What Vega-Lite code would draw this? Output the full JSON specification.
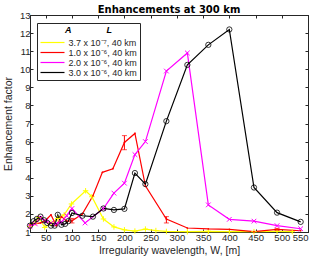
{
  "$schema": "https://vega.github.io/schema/vega-lite/v6.json",
  "width": 278,
  "height": 217,
  "autosize": "none",
  "padding": {"left": 30, "top": 15, "right": 12, "bottom": 31},
  "title": {"text": "Enhancements at 300 km", "font": "DejaVu Sans", "fontSize": 10, "fontWeight": "bold", "color": "#000000", "offset": -5},
  "config": {
    "font": "Liberation Sans",
    "view": {"stroke": "#262626", "strokeWidth": 1},
    "axis": {"domainColor": "#262626", "tickColor": "#262626", "labelColor": "#262626", "titleColor": "#262626", "grid": false, "labelFontSize": 9.5, "titleFontSize": 10.5, "titleFontWeight": "normal", "tickSize": -3, "labelPadding": 3}
  },
  "datasets": {
    "curves": [
      {"s": "3.7 x 10⁻⁷, 40 km", "x": 20, "y": 1.3},
      {"s": "3.7 x 10⁻⁷, 40 km", "x": 30, "y": 1.5},
      {"s": "3.7 x 10⁻⁷, 40 km", "x": 37, "y": 1.8},
      {"s": "3.7 x 10⁻⁷, 40 km", "x": 48, "y": 1.25},
      {"s": "3.7 x 10⁻⁷, 40 km", "x": 60, "y": 1.5},
      {"s": "3.7 x 10⁻⁷, 40 km", "x": 73, "y": 1.75},
      {"s": "3.7 x 10⁻⁷, 40 km", "x": 85, "y": 1.95},
      {"s": "3.7 x 10⁻⁷, 40 km", "x": 99, "y": 2.55},
      {"s": "3.7 x 10⁻⁷, 40 km", "x": 126, "y": 3.28},
      {"s": "3.7 x 10⁻⁷, 40 km", "x": 138, "y": 2.95},
      {"s": "3.7 x 10⁻⁷, 40 km", "x": 160, "y": 1.72},
      {"s": "3.7 x 10⁻⁷, 40 km", "x": 180, "y": 1.28},
      {"s": "3.7 x 10⁻⁷, 40 km", "x": 200, "y": 1.12},
      {"s": "3.7 x 10⁻⁷, 40 km", "x": 220, "y": 1.05},
      {"s": "3.7 x 10⁻⁷, 40 km", "x": 240, "y": 1.16},
      {"s": "3.7 x 10⁻⁷, 40 km", "x": 260, "y": 1.08},
      {"s": "3.7 x 10⁻⁷, 40 km", "x": 280, "y": 1.03},
      {"s": "3.7 x 10⁻⁷, 40 km", "x": 320, "y": 1.02},
      {"s": "3.7 x 10⁻⁷, 40 km", "x": 360, "y": 1.04},
      {"s": "3.7 x 10⁻⁷, 40 km", "x": 400, "y": 1.02},
      {"s": "3.7 x 10⁻⁷, 40 km", "x": 447, "y": 1.02},
      {"s": "3.7 x 10⁻⁷, 40 km", "x": 491, "y": 1.03},
      {"s": "3.7 x 10⁻⁷, 40 km", "x": 520, "y": 1.02},
      {"s": "1.0 x 10⁻⁶, 40 km", "x": 20, "y": 1.4},
      {"s": "1.0 x 10⁻⁶, 40 km", "x": 30, "y": 1.45},
      {"s": "1.0 x 10⁻⁶, 40 km", "x": 40, "y": 1.5},
      {"s": "1.0 x 10⁻⁶, 40 km", "x": 50, "y": 1.65},
      {"s": "1.0 x 10⁻⁶, 40 km", "x": 60, "y": 1.95},
      {"s": "1.0 x 10⁻⁶, 40 km", "x": 70, "y": 1.35},
      {"s": "1.0 x 10⁻⁶, 40 km", "x": 80, "y": 1.85},
      {"s": "1.0 x 10⁻⁶, 40 km", "x": 90, "y": 1.6},
      {"s": "1.0 x 10⁻⁶, 40 km", "x": 100, "y": 1.62},
      {"s": "1.0 x 10⁻⁶, 40 km", "x": 120, "y": 2.0},
      {"s": "1.0 x 10⁻⁶, 40 km", "x": 140, "y": 3.0},
      {"s": "1.0 x 10⁻⁶, 40 km", "x": 158, "y": 4.3},
      {"s": "1.0 x 10⁻⁶, 40 km", "x": 178, "y": 4.5},
      {"s": "1.0 x 10⁻⁶, 40 km", "x": 200, "y": 5.95},
      {"s": "1.0 x 10⁻⁶, 40 km", "x": 220, "y": 6.45},
      {"s": "1.0 x 10⁻⁶, 40 km", "x": 240, "y": 3.55},
      {"s": "1.0 x 10⁻⁶, 40 km", "x": 280, "y": 1.72},
      {"s": "1.0 x 10⁻⁶, 40 km", "x": 320, "y": 1.22},
      {"s": "1.0 x 10⁻⁶, 40 km", "x": 360, "y": 1.17},
      {"s": "1.0 x 10⁻⁶, 40 km", "x": 400, "y": 1.15},
      {"s": "1.0 x 10⁻⁶, 40 km", "x": 447, "y": 1.02},
      {"s": "1.0 x 10⁻⁶, 40 km", "x": 491, "y": 1.15},
      {"s": "1.0 x 10⁻⁶, 40 km", "x": 536, "y": 1.07},
      {"s": "2.0 x 10⁻⁶, 40 km", "x": 20, "y": 1.3},
      {"s": "2.0 x 10⁻⁶, 40 km", "x": 30, "y": 1.45},
      {"s": "2.0 x 10⁻⁶, 40 km", "x": 40, "y": 1.8},
      {"s": "2.0 x 10⁻⁶, 40 km", "x": 50, "y": 1.6},
      {"s": "2.0 x 10⁻⁶, 40 km", "x": 60, "y": 1.5},
      {"s": "2.0 x 10⁻⁶, 40 km", "x": 70, "y": 1.45},
      {"s": "2.0 x 10⁻⁶, 40 km", "x": 80, "y": 1.55},
      {"s": "2.0 x 10⁻⁶, 40 km", "x": 90, "y": 1.9},
      {"s": "2.0 x 10⁻⁶, 40 km", "x": 100, "y": 2.3},
      {"s": "2.0 x 10⁻⁶, 40 km", "x": 125, "y": 1.5},
      {"s": "2.0 x 10⁻⁶, 40 km", "x": 160, "y": 2.3},
      {"s": "2.0 x 10⁻⁶, 40 km", "x": 180, "y": 3.15},
      {"s": "2.0 x 10⁻⁶, 40 km", "x": 200, "y": 3.7},
      {"s": "2.0 x 10⁻⁶, 40 km", "x": 220, "y": 5.28},
      {"s": "2.0 x 10⁻⁶, 40 km", "x": 240, "y": 6.0},
      {"s": "2.0 x 10⁻⁶, 40 km", "x": 280, "y": 9.9},
      {"s": "2.0 x 10⁻⁶, 40 km", "x": 320, "y": 10.9},
      {"s": "2.0 x 10⁻⁶, 40 km", "x": 360, "y": 2.5},
      {"s": "2.0 x 10⁻⁶, 40 km", "x": 400, "y": 1.7},
      {"s": "2.0 x 10⁻⁶, 40 km", "x": 447, "y": 1.6},
      {"s": "2.0 x 10⁻⁶, 40 km", "x": 491, "y": 1.35},
      {"s": "2.0 x 10⁻⁶, 40 km", "x": 536, "y": 1.18},
      {"s": "3.0 x 10⁻⁶, 40 km", "x": 20, "y": 1.35},
      {"s": "3.0 x 10⁻⁶, 40 km", "x": 27, "y": 1.6},
      {"s": "3.0 x 10⁻⁶, 40 km", "x": 33, "y": 1.72},
      {"s": "3.0 x 10⁻⁶, 40 km", "x": 40, "y": 1.85},
      {"s": "3.0 x 10⁻⁶, 40 km", "x": 47, "y": 1.65},
      {"s": "3.0 x 10⁻⁶, 40 km", "x": 53, "y": 1.5},
      {"s": "3.0 x 10⁻⁶, 40 km", "x": 60, "y": 1.35},
      {"s": "3.0 x 10⁻⁶, 40 km", "x": 67, "y": 1.35},
      {"s": "3.0 x 10⁻⁶, 40 km", "x": 73, "y": 1.95},
      {"s": "3.0 x 10⁻⁶, 40 km", "x": 80, "y": 1.4},
      {"s": "3.0 x 10⁻⁶, 40 km", "x": 87, "y": 1.45},
      {"s": "3.0 x 10⁻⁶, 40 km", "x": 93, "y": 1.6},
      {"s": "3.0 x 10⁻⁶, 40 km", "x": 100, "y": 2.05},
      {"s": "3.0 x 10⁻⁶, 40 km", "x": 120, "y": 1.9},
      {"s": "3.0 x 10⁻⁶, 40 km", "x": 140, "y": 1.85},
      {"s": "3.0 x 10⁻⁶, 40 km", "x": 160, "y": 2.3},
      {"s": "3.0 x 10⁻⁶, 40 km", "x": 180, "y": 2.22},
      {"s": "3.0 x 10⁻⁶, 40 km", "x": 200, "y": 2.28},
      {"s": "3.0 x 10⁻⁶, 40 km", "x": 220, "y": 4.26},
      {"s": "3.0 x 10⁻⁶, 40 km", "x": 240, "y": 3.65},
      {"s": "3.0 x 10⁻⁶, 40 km", "x": 280, "y": 7.13},
      {"s": "3.0 x 10⁻⁶, 40 km", "x": 320, "y": 10.24},
      {"s": "3.0 x 10⁻⁶, 40 km", "x": 360, "y": 11.35},
      {"s": "3.0 x 10⁻⁶, 40 km", "x": 400, "y": 12.2},
      {"s": "3.0 x 10⁻⁶, 40 km", "x": 447, "y": 3.46},
      {"s": "3.0 x 10⁻⁶, 40 km", "x": 491, "y": 2.07},
      {"s": "3.0 x 10⁻⁶, 40 km", "x": 536, "y": 1.56}
    ],
    "err": [
      {"x": 100, "lo": 1.5, "hi": 1.75},
      {"x": 200, "lo": 5.55, "hi": 6.33},
      {"x": 280, "lo": 1.5, "hi": 1.85},
      {"x": 491, "lo": 1.08, "hi": 1.2}
    ]
  },
  "encoding": {
    "x": {"field": "x", "type": "quantitative", "scale": {"domain": [20, 550], "nice": false, "zero": false}},
    "y": {"field": "y", "type": "quantitative", "scale": {"domain": [1, 13], "nice": false, "zero": false}}
  },
  "layer": [
    {
      "data": {"name": "curves"},
      "mark": {"type": "line", "strokeWidth": 1.2},
      "encoding": {
        "x": {"field": "x", "type": "quantitative", "axis": {"title": "Irregularity wavelength, W, [m]", "values": [50,100,150,200,250,300,350,400,450,500,550], "titlePadding": 4}},
        "y": {"field": "y", "type": "quantitative", "axis": {"title": "Enhancement factor", "values": [1,2,3,4,5,6,7,8,9,10,11,12,13], "titlePadding": 6}},
        "color": {
          "field": "s", "type": "nominal",
          "scale": {"domain": ["3.7 x 10⁻⁷, 40 km", "1.0 x 10⁻⁶, 40 km", "2.0 x 10⁻⁶, 40 km", "3.0 x 10⁻⁶, 40 km"], "range": ["#FFFF00", "#FF0000", "#FF00FF", "#000000"]},
          "legend": {
            "orient": "none", "legendX": 7, "legendY": 8,
            "title": "A\u00a0\u00a0\u00a0\u00a0\u00a0\u00a0\u00a0\u00a0\u00a0\u00a0\u00a0\u00a0\u00a0\u00a0L",
            "titleFontStyle": "italic", "titleFontWeight": "bold", "titleFontSize": 9, "titleColor": "#000000",
            "titlePadding": 3, "titleAnchor": "middle",
            "labelFontSize": 9, "labelColor": "#262626", "labelOffset": 11,
            "strokeColor": "#262626", "fillColor": "#ffffff", "padding": 2.5,
            "symbolType": "M-3,0L3,0", "symbolSize": 64, "symbolOffset": 8, "symbolStrokeWidth": 1.2, "rowPadding": 0,
            "encoding": {
              "symbols": {"update": {"shape": {"signal": "datum.index === 0 ? 'M-3,0L3,0M-0.375,0L0.375,0M0,-0.375L0,0.375' : datum.index === 1 ? 'M-3,0L3,0M-0.1,0A0.1,0.1 0 1 1 0.1,0A0.1,0.1 0 1 1 -0.1,0' : datum.index === 2 ? 'M-3,0L3,0M-0.33,-0.33L0.33,0.33M-0.33,0.33L0.33,-0.33' : 'M-3,0L-0.35,0M0.35,0L3,0M0.35,0A0.35,0.35 0 1 1 -0.35,0A0.35,0.35 0 1 1 0.35,0'"}}}
            }
          }
        }
      }
    },
    {
      "data": {"name": "err"},
      "mark": {"type": "rule", "color": "#FF0000", "strokeWidth": 1},
      "encoding": {"x": {"field": "x", "type": "quantitative", "axis": null}, "y": {"field": "lo", "type": "quantitative", "axis": null}, "y2": {"field": "hi"}}
    },
    {
      "data": {"name": "err"},
      "mark": {"type": "tick", "orient": "horizontal", "color": "#FF0000", "size": 5, "thickness": 1},
      "encoding": {"x": {"field": "x", "type": "quantitative", "axis": null}, "y": {"field": "lo", "type": "quantitative", "axis": null}}
    },
    {
      "data": {"name": "err"},
      "mark": {"type": "tick", "orient": "horizontal", "color": "#FF0000", "size": 5, "thickness": 1},
      "encoding": {"x": {"field": "x", "type": "quantitative", "axis": null}, "y": {"field": "hi", "type": "quantitative", "axis": null}}
    },
    {
      "data": {"name": "curves"},
      "transform": [{"filter": "datum.s === '3.7 x 10⁻⁷, 40 km'"}],
      "mark": {"type": "point", "shape": "M-1,0L1,0M0,-1L0,1", "color": "#FFFF00", "filled": false, "size": 30, "strokeWidth": 1, "opacity": 1},
      "encoding": {"x": {"field": "x", "type": "quantitative", "axis": null}, "y": {"field": "y", "type": "quantitative", "axis": null}}
    },
    {
      "data": {"name": "curves"},
      "transform": [{"filter": "datum.s === '1.0 x 10⁻⁶, 40 km'"}],
      "mark": {"type": "point", "shape": "circle", "color": "#FF0000", "filled": true, "size": 3, "opacity": 1},
      "encoding": {"x": {"field": "x", "type": "quantitative", "axis": null}, "y": {"field": "y", "type": "quantitative", "axis": null}}
    },
    {
      "data": {"name": "curves"},
      "transform": [{"filter": "datum.s === '2.0 x 10⁻⁶, 40 km'"}],
      "mark": {"type": "point", "shape": "M-1,-1L1,1M-1,1L1,-1", "color": "#FF00FF", "filled": false, "size": 22, "strokeWidth": 1, "opacity": 1},
      "encoding": {"x": {"field": "x", "type": "quantitative", "axis": null}, "y": {"field": "y", "type": "quantitative", "axis": null}}
    },
    {
      "data": {"name": "curves"},
      "transform": [{"filter": "datum.s === '3.0 x 10⁻⁶, 40 km'"}],
      "mark": {"type": "point", "shape": "circle", "color": "#000000", "filled": false, "size": 28, "strokeWidth": 0.8, "opacity": 1},
      "encoding": {"x": {"field": "x", "type": "quantitative", "axis": null}, "y": {"field": "y", "type": "quantitative", "axis": null}}
    },
    {
      "data": {"name": "curves"},
      "mark": {"type": "point", "opacity": 0},
      "encoding": {
        "x": {"field": "x", "type": "quantitative", "axis": {"orient": "top", "labels": false, "title": null, "values": [50,100,150,200,250,300,350,400,450,500,550]}},
        "y": {"field": "y", "type": "quantitative", "axis": {"orient": "right", "labels": false, "title": null, "values": [1,2,3,4,5,6,7,8,9,10,11,12,13]}}
      }
    }
  ],
  "resolve": {"axis": {"x": "independent", "y": "independent"}}
}
